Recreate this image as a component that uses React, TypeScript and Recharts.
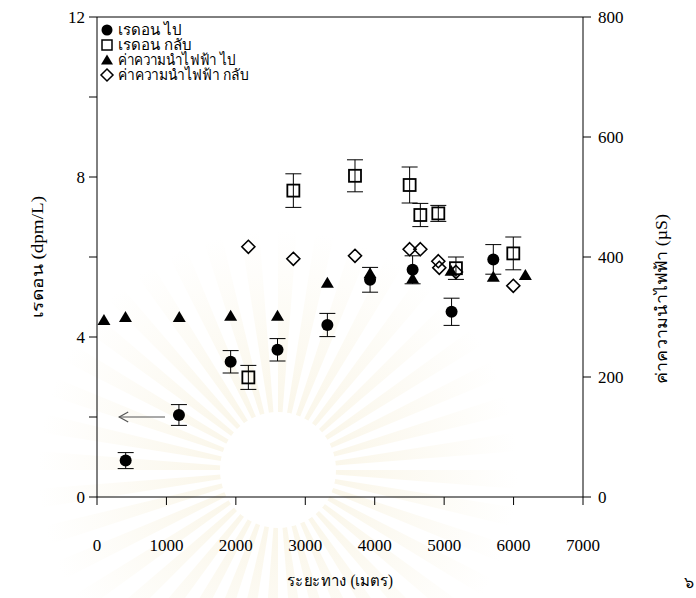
import React from 'react';
import {
  ScatterChart,
  Scatter,
  XAxis,
  YAxis,
  ErrorBar,
  Legend,
  ReferenceLine,
} from 'recharts';

// Distance along the route (m)
const distanceOut = [413, 1180, 1925, 2600, 3318, 3933, 4546, 5107, 5708];
const radonOut = [0.91, 2.05, 3.38, 3.68, 4.3, 5.43, 5.68, 4.63, 5.94];
const radonOutErr = [0.2, 0.26, 0.28, 0.28, 0.29, 0.31, 0.35, 0.34, 0.37];

const distanceBack = [2180, 2828, 3716, 4503, 4657, 4916, 5170, 5996];
const radonBack = [2.99, 7.66, 8.03, 7.8, 7.05, 7.09, 5.72, 6.09];
const radonBackErr = [0.3, 0.42, 0.4, 0.45, 0.29, 0.2, 0.28, 0.41];

const condOutDistance = [100, 410, 1185, 1925, 2600, 3318, 3933, 4546, 5100, 5708, 6170];
const condOut = [295, 300, 300, 302, 302, 357, 373, 364, 377, 367, 370];

const condBackDistance = [2180, 2828, 3716, 4503, 4657, 4916, 4930, 5170, 5996];
const condBack = [417, 397, 402, 413, 413, 393, 382, 375, 352];

const xTicks = [0, 1000, 2000, 3000, 4000, 5000, 6000, 7000];
const leftTicks = [0, 2, 4, 6, 8, 10, 12];
const rightTicks = [0, 200, 400, 600, 800];

const seriesNames = ['เรดอน ไป', 'เรดอน กลับ', 'ค่าความนำไฟฟ้า ไป', 'ค่าความนำไฟฟ้า กลับ'];
const legendWidths = [64, 74, 118, 131];
const xTitle = 'ระยะทาง (เมตร)';
const leftTitle = 'เรดอน (dpm/L)';
const rightTitle = 'ค่าความนำไฟฟ้า (µS)';

const radonOutData = distanceOut.map((d, i) => ({ d, v: radonOut[i], e: radonOutErr[i] }));
const radonBackData = distanceBack.map((d, i) => ({ d, v: radonBack[i], e: radonBackErr[i] }));
const condOutData = condOutDistance.map((d, i) => ({ d, v: condOut[i] }));
const condBackData = condBackDistance.map((d, i) => ({ d, v: condBack[i] }));

const serif = "'Liberation Serif', 'DejaVu Serif', serif";

const FilledCircle = ({ cx, cy }: any) => <circle cx={cx} cy={cy} r={6} fill="#000" />;
const OpenSquare = ({ cx, cy }: any) => (
  <rect x={cx - 6} y={cy - 6} width={12} height={12} fill="none" stroke="#000" strokeWidth={1.8} />
);
const FilledTriangle = ({ cx, cy }: any) => (
  <polygon points={`${cx},${cy - 6} ${cx + 6.5},${cy + 5} ${cx - 6.5},${cy + 5}`} fill="#000" />
);
const OpenDiamond = ({ cx, cy }: any) => (
  <polygon
    points={`${cx},${cy - 6.5} ${cx + 6.5},${cy} ${cx},${cy + 6.5} ${cx - 6.5},${cy}`}
    fill="none"
    stroke="#000"
    strokeWidth={1.6}
  />
);

const legendIcons = [
  (x: number, y: number) => <circle cx={x} cy={y} r={5.5} fill="#000" />,
  (x: number, y: number) => (
    <rect x={x - 5} y={y - 5} width={10} height={10} fill="none" stroke="#000" strokeWidth={1.5} />
  ),
  (x: number, y: number) => <polygon points={`${x},${y - 5.5} ${x + 6},${y + 4.5} ${x - 6},${y + 4.5}`} fill="#000" />,
  (x: number, y: number) => (
    <polygon
      points={`${x},${y - 6} ${x + 6},${y} ${x},${y + 6} ${x - 6},${y}`}
      fill="none"
      stroke="#000"
      strokeWidth={1.5}
    />
  ),
];

const LegendBox = () => (
  <svg width={170} height={66} style={{ overflow: 'visible' }}>
    {seriesNames.map((name, i) => (
      <g key={name}>
        {legendIcons[i](7, 8 + i * 15)}
        <text
          x={18}
          y={8 + i * 15}
          dy="0.35em"
          fontSize={15}
          fontFamily={serif}
          fill="#000"
          textLength={legendWidths[i]}
          lengthAdjust="spacingAndGlyphs"
        >
          {name}
        </text>
      </g>
    ))}
  </svg>
);

const Arrow = ({ x1, y1, x2, y2 }: any) => (
  <g stroke="#555" strokeWidth={1.2} fill="none">
    <line x1={x1} y1={y1} x2={x2} y2={y2} />
    <polyline points={`${x2 + 9},${y2 - 5} ${x2},${y2} ${x2 + 9},${y2 + 5}`} />
  </g>
);

// faint emblem printed behind the page
const Watermark = () => {
  const cx = 278;
  const cy = 470;
  const rays = [];
  for (let i = 0; i < 40; i++) {
    const a0 = (i / 40) * Math.PI * 2;
    const a1 = a0 + (Math.PI * 2) / 80;
    const r = 240;
    rays.push(
      <polygon
        key={i}
        points={`${cx},${cy} ${cx + r * Math.cos(a0)},${cy + r * Math.sin(a0)} ${cx + r * Math.cos(a1)},${cy + r * Math.sin(a1)}`}
        fill="url(#wm)"
      />
    );
  }
  return (
    <svg width={696} height={598} style={{ position: 'absolute', left: 0, top: 0 }}>
      <defs>
        <radialGradient id="wm" cx={cx} cy={cy} r={240} gradientUnits="userSpaceOnUse">
          <stop offset="0.2" stopColor="#f3e9c8" stopOpacity={0.4} />
          <stop offset="1" stopColor="#f3e9c8" stopOpacity={0} />
        </radialGradient>
      </defs>
      {rays}
      <circle cx={cx} cy={cy} r={58} fill="#fff" />
      <text x={684} y={588} fontSize={16} fontFamily={serif} fill="#000">
        ๖
      </text>
    </svg>
  );
};

export default function App() {
  return (
    <div style={{ position: 'absolute', left: 0, top: 0, width: 696, height: 598, background: '#fff' }}>
      <Watermark />
      <div style={{ position: 'absolute', left: 0, top: 0 }}>
        <ScatterChart width={696} height={598} margin={{ top: 17, right: 0, bottom: 0, left: 0 }}>
          <XAxis
            type="number"
            dataKey="d"
            domain={[0, 7000]}
            ticks={xTicks}
            height={101}
            tickSize={8}
            tickMargin={34}
            stroke="#000"
            tick={{ fill: '#000', fontSize: 17, fontFamily: serif }}
            label={{
              content: ({ viewBox }: any) => (
                <text
                  x={viewBox.x + viewBox.width / 2}
                  y={viewBox.y + 83}
                  textAnchor="middle"
                  dominantBaseline="central"
                  fontSize={16}
                  fontFamily={serif}
                  fill="#000"
                  textLength={106}
                  lengthAdjust="spacingAndGlyphs"
                >
                  {xTitle}
                </text>
              ),
            }}
          />
          <YAxis
            yAxisId="left"
            type="number"
            dataKey="v"
            domain={[0, 12]}
            ticks={leftTicks}
            width={97}
            tickSize={8}
            tickMargin={4}
            stroke="#000"
            tickFormatter={(v: number) => (v % 4 === 0 ? String(v) : '')}
            tick={{ fill: '#000', fontSize: 17, fontFamily: serif }}
            label={{
              content: ({ viewBox }: any) => {
                const x = viewBox.x + 37;
                const y = viewBox.y + viewBox.height / 2;
                return (
                  <text
                    x={x}
                    y={y}
                    transform={`rotate(-90 ${x} ${y})`}
                    textAnchor="middle"
                    dominantBaseline="central"
                    fontSize={16}
                    fontFamily={serif}
                    fill="#000"
                    textLength={122}
                    lengthAdjust="spacingAndGlyphs"
                  >
                    {leftTitle}
                  </text>
                );
              },
            }}
          />
          <YAxis
            yAxisId="right"
            orientation="right"
            type="number"
            dataKey="v"
            domain={[0, 800]}
            ticks={rightTicks}
            width={113}
            tickSize={8}
            tickMargin={7}
            stroke="#000"
            tick={{ fill: '#000', fontSize: 17, fontFamily: serif }}
            label={{
              content: ({ viewBox }: any) => {
                const x = viewBox.x + 78;
                const y = viewBox.y + viewBox.height / 2 + 42;
                return (
                  <text
                    x={x}
                    y={y}
                    transform={`rotate(-90 ${x} ${y})`}
                    textAnchor="middle"
                    dominantBaseline="central"
                    fontSize={16}
                    fontFamily={serif}
                    fill="#000"
                    textLength={170}
                    lengthAdjust="spacingAndGlyphs"
                  >
                    {rightTitle}
                  </text>
                );
              },
            }}
          />
          <ReferenceLine yAxisId="left" y={12} stroke="#000" />
          <ReferenceLine
            yAxisId="left"
            segment={[
              { x: 980, y: 2.0 },
              { x: 320, y: 2.0 },
            ]}
            shape={Arrow}
          />
          <Legend
            layout="vertical"
            align="center"
            verticalAlign="middle"
            wrapperStyle={{ left: 100, top: 22, width: 170 }}
            content={() => <LegendBox />}
          />
          <Scatter yAxisId="left" name={seriesNames[0]} data={radonOutData} shape={FilledCircle} isAnimationActive={false}>
            <ErrorBar dataKey="e" direction="y" width={8} stroke="#000" strokeWidth={1} />
          </Scatter>
          <Scatter yAxisId="left" name={seriesNames[1]} data={radonBackData} shape={OpenSquare} isAnimationActive={false}>
            <ErrorBar dataKey="e" direction="y" width={8} stroke="#000" strokeWidth={1} />
          </Scatter>
          <Scatter yAxisId="right" name={seriesNames[2]} data={condOutData} shape={FilledTriangle} isAnimationActive={false} />
          <Scatter yAxisId="right" name={seriesNames[3]} data={condBackData} shape={OpenDiamond} isAnimationActive={false} />
        </ScatterChart>
      </div>
    </div>
  );
}
